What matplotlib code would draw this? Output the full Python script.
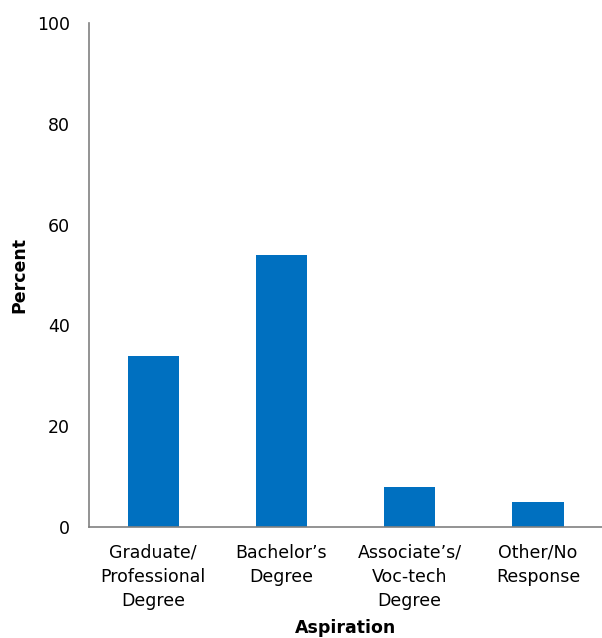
import matplotlib.pyplot as plt
import numpy as np

categories = ['Graduate/\nProfessional\nDegree', 'Bachelor\u2019s\nDegree',
              'Associate\u2019s/\nVoc-tech\nDegree', 'Other/No\nResponse']
percent = [34, 54, 8, 5]
yticks = [0, 20, 40, 60, 80, 100]

plt.rcParams['font.family'] = ['DejaVu Sans']

fig = plt.figure(figsize=(6.02, 6.38), dpi=100)
ax = fig.add_axes([0.148, 0.174, 0.852, 0.79])

x = np.arange(len(categories))
ax.bar(x, percent, width=0.4, color='#0070C0')

ax.set_xlim(-0.5, len(categories) - 0.5)
ax.set_ylim(0, 100)
ax.set_yticks(yticks)
ax.set_xticks(x)
ax.set_xticklabels(categories, fontsize=12.5, linespacing=1.45)
ax.tick_params(axis='y', labelsize=12.5, length=0, pad=14)
ax.tick_params(axis='x', length=0, pad=12)

for s in ['top', 'right']:
  ax.spines[s].set_visible(False)
for s in ['left', 'bottom']:
  ax.spines[s].set_color('#808080')
  ax.spines[s].set_linewidth(1.2)

ax.set_ylabel('Percent', fontsize=12.5, fontweight='bold', labelpad=6)
ax.set_xlabel('Aspiration', fontsize=12.5, fontweight='bold', labelpad=6)

fig.savefig('out.png', dpi=100)
